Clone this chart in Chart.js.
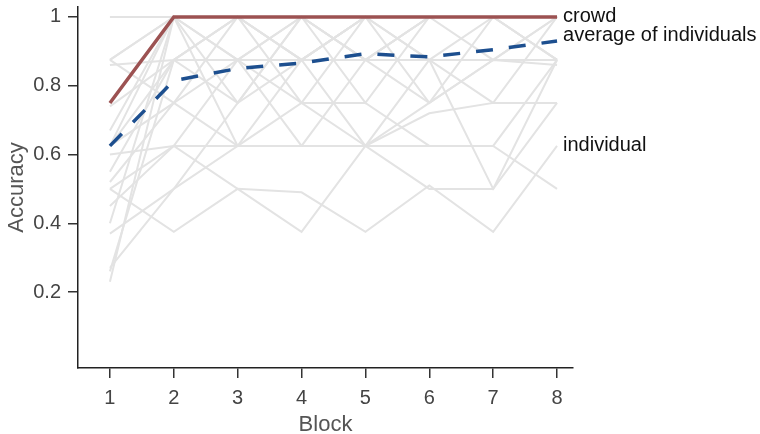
<!DOCTYPE html>
<html>
<head>
<meta charset="utf-8">
<script src="https://cdn.jsdelivr.net/npm/chart.js@4.4.1/dist/chart.umd.min.js"></script>
<style>
  html, body { margin: 0; padding: 0; background: #ffffff; }
  #wrap { width: 760px; height: 434px; }
</style>
</head>
<body>
<div id="wrap"><canvas id="c" width="760" height="434"></canvas></div>
<script>
// ---- data ----
const blocks = [1, 2, 3, 4, 5, 6, 7, 8];
const yTicks = [0.2, 0.4, 0.6, 0.8, 1];
const crowd = [0.75, 1, 1, 1, 1, 1, 1, 1];
const averageOfIndividuals = [0.625, 0.815, 0.85, 0.866, 0.893, 0.884, 0.905, 0.93];
const individuals = [
  [1, 1, 1, 1, 1, 1, 1, 1],
  [0.875, 1, 1, 0.875, 1, 1, 1, 1],
  [0.875, 1, 0.875, 1, 1, 0.875, 1, 1],
  [0.86, 0.875, 1, 1, 0.875, 1, 1, 0.875],
  [0.75, 1, 1, 1, 1, 1, 0.875, 1],
  [0.74, 0.875, 0.75, 1, 1, 1, 1, 1],
  [0.67, 1, 0.875, 0.875, 1, 1, 1, 0.875],
  [0.625, 0.75, 1, 0.875, 0.875, 1, 1, 1],
  [0.625, 1, 0.625, 0.625, 0.875, 1, 1, 1],
  [0.6, 0.625, 0.625, 0.75, 0.625, 0.75, 0.875, 0.86],
  [0.55, 0.875, 1, 0.75, 0.75, 0.625, 0.625, 0.5],
  [0.52, 0.75, 0.875, 1, 0.875, 0.75, 1, 1],
  [0.5, 0.375, 0.5, 0.49, 0.375, 0.51, 0.375, 0.625],
  [0.5, 0.625, 0.5, 0.375, 0.625, 0.5, 0.5, 0.875],
  [0.45, 0.625, 0.875, 0.625, 0.625, 0.875, 0.75, 0.75],
  [0.4, 1, 0.75, 1, 0.875, 0.875, 0.875, 1],
  [0.37, 0.5, 0.625, 0.625, 0.625, 0.72, 0.75, 1],
  [0.27, 0.5, 0.75, 0.875, 1, 0.75, 0.875, 0.875],
  [0.26, 0.875, 1, 0.875, 1, 1, 1, 0.875],
  [0.23, 1, 1, 1, 0.75, 1, 1, 1],
  [0.875, 0.75, 0.625, 0.875, 0.625, 0.625, 0.625, 0.875],
  [0.625, 0.875, 0.875, 0.75, 1, 0.875, 0.5, 0.75]
];
const labelledIndividual = 12; // index of the individual carrying the "individual" label
const seriesLabels = { crowd: 'crowd', average: 'average of individuals', individual: 'individual' };

// ---- build ----
const toPts = arr => arr.map((v, i) => ({ x: blocks[i], y: v }));
const datasets = [];
datasets.push({
  label: seriesLabels.crowd, data: toPts(crowd), borderColor: '#9c5252',
  borderWidth: 3.5, pointRadius: 0, tension: 0, order: 0, fill: false
});
datasets.push({
  label: seriesLabels.average, data: toPts(averageOfIndividuals), borderColor: '#1d4f8f',
  borderWidth: 3.5, borderDash: [17, 16], pointRadius: 0, tension: 0, order: 1, fill: false
});
individuals.forEach((arr, k) => {
  datasets.push({
    label: 'ind' + k, data: toPts(arr), borderColor: '#e3e3e3',
    borderWidth: 2, pointRadius: 0, tension: 0, order: 2, fill: false
  });
});

const FONT = "'Liberation Sans', Arial, Helvetica, sans-serif";

const endLabels = {
  id: 'endLabels',
  afterDatasetsDraw(chart) {
    const { ctx, scales: { x, y } } = chart;
    const xEnd = x.getPixelForValue(blocks[blocks.length - 1]) + 6;
    const items = [
      [seriesLabels.crowd, crowd[crowd.length - 1], 0],
      [seriesLabels.average, averageOfIndividuals[averageOfIndividuals.length - 1], -6],
      [seriesLabels.individual, individuals[labelledIndividual][blocks.length - 1], 0]
    ];
    ctx.save();
    ctx.font = '20px ' + FONT;
    ctx.fillStyle = '#111111';
    ctx.textAlign = 'left';
    ctx.textBaseline = 'middle';
    items.forEach(([t, v, dy]) => ctx.fillText(t, xEnd, y.getPixelForValue(v) + dy));
    ctx.restore();
  }
};

new Chart(document.getElementById('c'), {
  type: 'line',
  data: { datasets },
  plugins: [endLabels],
  options: {
    responsive: false,
    animation: false,
    events: [],
    layout: { padding: { left: 0, right: 187, top: 7, bottom: 0 } },
    plugins: { legend: { display: false }, tooltip: { enabled: false } },
    scales: {
      x: {
        type: 'linear', min: 0.5, max: 8.25,
        afterBuildTicks: s => { s.ticks = blocks.map(v => ({ value: v })); },
        afterFit: s => { s.height = 66; s.paddingLeft = 0; s.paddingRight = 0; },
        ticks: { color: '#444', font: { size: 20, family: FONT }, padding: 8,
                 callback: v => String(v) },
        grid: { display: true, drawOnChartArea: false, drawTicks: true, tickLength: 10,
                color: '#333', lineWidth: 1.5 },
        border: { display: true, color: '#222', width: 1.5 },
        title: { display: true, text: 'Block', color: '#555',
                 font: { size: 22, family: FONT, lineHeight: 1 }, padding: { top: 0, bottom: -2 } }
      },
      y: {
        type: 'linear', min: -0.021, max: 1.029,
        afterBuildTicks: s => { s.ticks = yTicks.map(v => ({ value: v })); },
        afterFit: s => { s.width = 78; s.paddingTop = 0; s.paddingBottom = 0; },
        ticks: { color: '#444', font: { size: 20, family: FONT }, padding: 7,
                 callback: v => String(+(+v).toFixed(2)) },
        grid: { display: true, drawOnChartArea: false, drawTicks: true, tickLength: 10,
                color: '#333', lineWidth: 1.5 },
        border: { display: true, color: '#222', width: 1.5 },
        title: { display: true, text: 'Accuracy', color: '#555',
                 font: { size: 22, family: FONT, lineHeight: 1 }, padding: { top: 6, bottom: 0 } }
      }
    }
  }
});
</script>
</body>
</html>
